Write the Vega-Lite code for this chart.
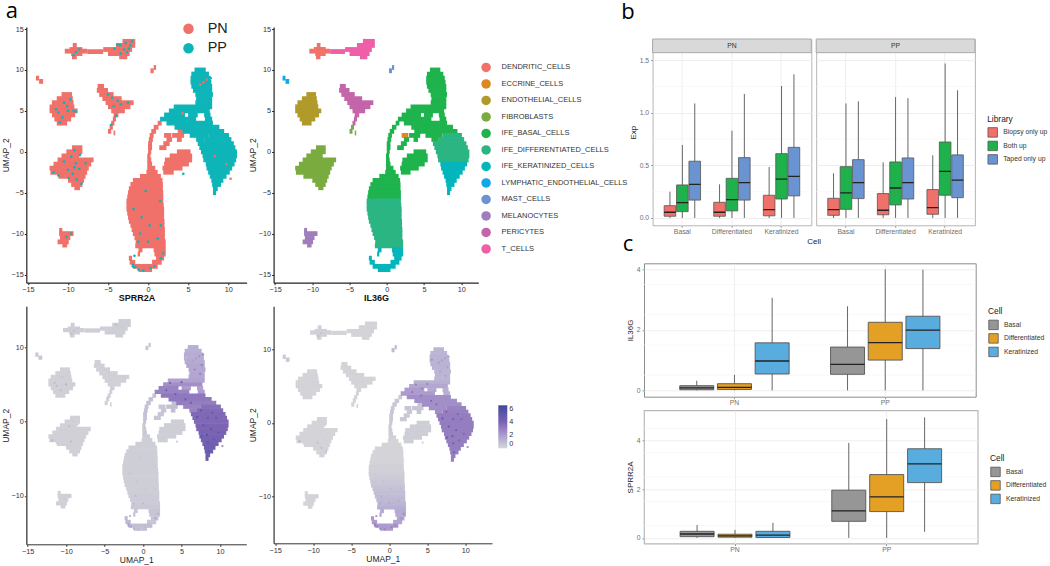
{"$schema":"https://vega.github.io/schema/vega-lite/v6.json","padding":{"left":1.3,"top":0,"right":0,"bottom":0},"background":"white",
"config":{"font":"Liberation Sans","concat":{"spacing":0}},
"datasets":{
"cells":[
{"y":13.5,"x1":-3.2,"x2":-1.6,"cluster":"T_CELLS","lib":"PN","sprr":0.3,"il36":0.1},
{"y":13,"x1":-4,"x2":-1.6,"cluster":"T_CELLS","lib":"PN","sprr":0.3,"il36":0.1},
{"y":12.5,"x1":-5.6,"x2":-2,"cluster":"T_CELLS","lib":"PN","sprr":0.3,"il36":0.1},
{"y":12.25,"x1":-7.6,"x2":-5.6,"cluster":"T_CELLS","lib":"PN","sprr":0.3,"il36":0.1},
{"y":12,"x1":-5,"x2":-2.3,"cluster":"T_CELLS","lib":"PN","sprr":0.3,"il36":0.1},
{"y":11.6,"x1":-3.6,"x2":-2.6,"cluster":"T_CELLS","lib":"PN","sprr":0.3,"il36":0.1},
{"y":13,"x1":-9.4,"x2":-8.9,"cluster":"DENDRITIC_CELLS","lib":"PN","sprr":0.3,"il36":0.2},
{"y":12.5,"x1":-9.8,"x2":-8.2,"cluster":"DENDRITIC_CELLS","lib":"PN","sprr":0.3,"il36":0.2},
{"y":12.3,"x1":-10.4,"x2":-7.6,"cluster":"DENDRITIC_CELLS","lib":"PN","sprr":0.3,"il36":0.2},
{"y":12,"x1":-9.6,"x2":-8.2,"cluster":"DENDRITIC_CELLS","lib":"PN","sprr":0.3,"il36":0.2},
{"y":11.6,"x1":-9.5,"x2":-8.9,"cluster":"DENDRITIC_CELLS","lib":"PN","sprr":0.3,"il36":0.2},
{"y":9,"x1":-14,"x2":-13.6,"cluster":"LYMPHATIC_ENDOTHELIAL_CELLS","lib":"PN","sprr":0.5,"il36":0.5},
{"y":8.6,"x1":-13.6,"x2":-13.1,"cluster":"LYMPHATIC_ENDOTHELIAL_CELLS","lib":"PN","sprr":0.5,"il36":0.5},
{"y":10.3,"x1":0.7,"x2":1,"cluster":"MAST_CELLS","lib":"PN","sprr":0.5,"il36":0.9},
{"y":9.9,"x1":0.3,"x2":0.7,"cluster":"MAST_CELLS","lib":"PN","sprr":0.5,"il36":0.9},
{"y":7,"x1":-10.8,"x2":-9.5,"cluster":"ENDOTHELIAL_CELLS","lib":"PN","sprr":0.2,"il36":0.1},
{"y":6.5,"x1":-11.4,"x2":-9.4,"cluster":"ENDOTHELIAL_CELLS","lib":"PN","sprr":0.2,"il36":0.1},
{"y":6,"x1":-12,"x2":-9.3,"cluster":"ENDOTHELIAL_CELLS","lib":"PN","sprr":0.2,"il36":0.1},
{"y":5.5,"x1":-12.3,"x2":-9.2,"cluster":"ENDOTHELIAL_CELLS","lib":"PN","sprr":0.2,"il36":0.1},
{"y":5,"x1":-12.3,"x2":-8.8,"cluster":"ENDOTHELIAL_CELLS","lib":"PN","sprr":0.2,"il36":0.1},
{"y":4.5,"x1":-12,"x2":-9.1,"cluster":"ENDOTHELIAL_CELLS","lib":"PN","sprr":0.2,"il36":0.1},
{"y":4,"x1":-11.7,"x2":-9.6,"cluster":"ENDOTHELIAL_CELLS","lib":"PN","sprr":0.2,"il36":0.1},
{"y":3.5,"x1":-11.4,"x2":-10.1,"cluster":"ENDOTHELIAL_CELLS","lib":"PN","sprr":0.2,"il36":0.1},
{"y":8,"x1":-6.3,"x2":-5.5,"cluster":"PERICYTES","lib":"PN","sprr":0.2,"il36":0.1},
{"y":7.5,"x1":-6.4,"x2":-5,"cluster":"PERICYTES","lib":"PN","sprr":0.2,"il36":0.1},
{"y":7,"x1":-6.1,"x2":-4.3,"cluster":"PERICYTES","lib":"PN","sprr":0.2,"il36":0.1},
{"y":6.5,"x1":-5.7,"x2":-3.3,"cluster":"PERICYTES","lib":"PN","sprr":0.2,"il36":0.1},
{"y":6,"x1":-5.3,"x2":-1.8,"cluster":"PERICYTES","lib":"PN","sprr":0.2,"il36":0.1},
{"y":5.5,"x1":-5,"x2":-2.2,"cluster":"PERICYTES","lib":"PN","sprr":0.2,"il36":0.1},
{"y":5,"x1":-4.6,"x2":-2.9,"cluster":"PERICYTES","lib":"PN","sprr":0.2,"il36":0.1},
{"y":4.5,"x1":-4.3,"x2":-3.7,"cluster":"PERICYTES","lib":"PN","sprr":0.2,"il36":0.1},
{"y":4,"x1":-4.4,"x2":-4,"cluster":"PERICYTES","lib":"PN","sprr":0.2,"il36":0.1},
{"y":3.5,"x1":-4.6,"x2":-4.2,"cluster":"PERICYTES","lib":"PN","sprr":0.2,"il36":0.1},
{"y":3,"x1":-4.8,"x2":-4.4,"cluster":"FIBROBLASTS","lib":"PN","sprr":0.2,"il36":0.1},
{"y":2.5,"x1":-5,"x2":-4.6,"cluster":"FIBROBLASTS","lib":"PN","sprr":0.2,"il36":0.1},
{"y":2.3,"x1":-4.3,"x2":-4.1,"cluster":"FIBROBLASTS","lib":"PN","sprr":0.2,"il36":0.1},
{"y":0.5,"x1":-9.5,"x2":-8.2,"cluster":"FIBROBLASTS","lib":"PN","sprr":0.2,"il36":0.1},
{"y":0,"x1":-10.2,"x2":-8.2,"cluster":"FIBROBLASTS","lib":"PN","sprr":0.2,"il36":0.1},
{"y":-0.5,"x1":-10.8,"x2":-8.6,"cluster":"FIBROBLASTS","lib":"PN","sprr":0.2,"il36":0.1},
{"y":-1,"x1":-11.3,"x2":-6.8,"cluster":"FIBROBLASTS","lib":"PN","sprr":0.2,"il36":0.1},
{"y":-1.5,"x1":-11.8,"x2":-7.1,"cluster":"FIBROBLASTS","lib":"PN","sprr":0.2,"il36":0.1},
{"y":-2,"x1":-12.3,"x2":-7.4,"cluster":"FIBROBLASTS","lib":"PN","sprr":0.2,"il36":0.1},
{"y":-2.5,"x1":-12.2,"x2":-7.6,"cluster":"FIBROBLASTS","lib":"PN","sprr":0.2,"il36":0.1},
{"y":-3,"x1":-11.2,"x2":-7.8,"cluster":"FIBROBLASTS","lib":"PN","sprr":0.2,"il36":0.1},
{"y":-3.5,"x1":-10,"x2":-8,"cluster":"FIBROBLASTS","lib":"PN","sprr":0.2,"il36":0.1},
{"y":-4,"x1":-9.6,"x2":-8.2,"cluster":"FIBROBLASTS","lib":"PN","sprr":0.2,"il36":0.1},
{"y":-4.4,"x1":-9.2,"x2":-8.5,"cluster":"FIBROBLASTS","lib":"PN","sprr":0.2,"il36":0.1},
{"y":-9.6,"x1":-11.1,"x2":-10.7,"cluster":"MELANOCYTES","lib":"PN","sprr":0.2,"il36":0.1},
{"y":-10,"x1":-11.1,"x2":-9.3,"cluster":"MELANOCYTES","lib":"PN","sprr":0.2,"il36":0.1},
{"y":-10.5,"x1":-11,"x2":-9.7,"cluster":"MELANOCYTES","lib":"PN","sprr":0.2,"il36":0.1},
{"y":-11,"x1":-11.3,"x2":-9.9,"cluster":"MELANOCYTES","lib":"PN","sprr":0.2,"il36":0.1},
{"y":-11.4,"x1":-10.7,"x2":-10.1,"cluster":"MELANOCYTES","lib":"PN","sprr":0.2,"il36":0.1},
{"y":2,"x1":2,"x2":2.9,"cluster":"ECCRINE_CELLS","lib":"PN","sprr":0.6,"il36":0.6},
{"y":2,"x1":3,"x2":4.5,"cluster":"IFE_BASAL_CELLS","lib":"PN","sprr":0.8,"il36":0.6},
{"y":2.5,"x1":3.7,"x2":4.6,"cluster":"IFE_BASAL_CELLS","lib":"PN","sprr":0.8,"il36":0.6},
{"y":1.5,"x1":2.3,"x2":3,"cluster":"IFE_BASAL_CELLS","lib":"PN","sprr":0.6,"il36":0.5},
{"y":1.5,"x1":3.6,"x2":4.2,"cluster":"IFE_BASAL_CELLS","lib":"PN","sprr":0.8,"il36":0.6},
{"y":1,"x1":1.9,"x2":2.7,"cluster":"IFE_BASAL_CELLS","lib":"PN","sprr":0.6,"il36":0.5},
{"y":0.5,"x1":1.4,"x2":2.3,"cluster":"IFE_BASAL_CELLS","lib":"PN","sprr":0.6,"il36":0.5},
{"y":0,"x1":3.6,"x2":5.3,"cluster":"IFE_BASAL_CELLS","lib":"PN","sprr":0.3,"il36":0.3},
{"y":-0.5,"x1":2.7,"x2":5.5,"cluster":"IFE_BASAL_CELLS","lib":"PN","sprr":0.3,"il36":0.3},
{"y":-1,"x1":2.1,"x2":5.5,"cluster":"IFE_BASAL_CELLS","lib":"PN","sprr":0.3,"il36":0.3},
{"y":-1.5,"x1":2,"x2":5.1,"cluster":"IFE_BASAL_CELLS","lib":"PN","sprr":0.3,"il36":0.3},
{"y":-2,"x1":1.8,"x2":4.3,"cluster":"IFE_BASAL_CELLS","lib":"PN","sprr":0.3,"il36":0.3},
{"y":-2.5,"x1":1.9,"x2":3.2,"cluster":"IFE_BASAL_CELLS","lib":"PN","sprr":0.3,"il36":0.3},
{"y":3.5,"x1":1.2,"x2":1.7,"cluster":"IFE_BASAL_CELLS","lib":"PN","sprr":0.7,"il36":0.5},
{"y":3,"x1":0.7,"x2":1.3,"cluster":"IFE_BASAL_CELLS","lib":"PN","sprr":0.7,"il36":0.5},
{"y":2.5,"x1":0.4,"x2":1,"cluster":"IFE_BASAL_CELLS","lib":"PN","sprr":0.7,"il36":0.5},
{"y":2,"x1":0.2,"x2":0.7,"cluster":"IFE_BASAL_CELLS","lib":"PN","sprr":0.7,"il36":0.5},
{"y":1.5,"x1":0.1,"x2":0.6,"cluster":"IFE_BASAL_CELLS","lib":"PN","sprr":0.7,"il36":0.5},
{"y":1,"x1":0,"x2":0.5,"cluster":"IFE_BASAL_CELLS","lib":"PN","sprr":0.7,"il36":0.5},
{"y":0.5,"x1":0,"x2":0.5,"cluster":"IFE_BASAL_CELLS","lib":"PN","sprr":0.7,"il36":0.5},
{"y":0,"x1":0,"x2":0.4,"cluster":"IFE_BASAL_CELLS","lib":"PN","sprr":0.7,"il36":0.5},
{"y":-0.5,"x1":-0.1,"x2":0.3,"cluster":"IFE_BASAL_CELLS","lib":"PN","sprr":0.5,"il36":0.4},
{"y":-1,"x1":-0.1,"x2":0.4,"cluster":"IFE_BASAL_CELLS","lib":"PN","sprr":0.5,"il36":0.4},
{"y":-1.5,"x1":-0.1,"x2":0.5,"cluster":"IFE_BASAL_CELLS","lib":"PN","sprr":0.5,"il36":0.3},
{"y":-2,"x1":-0.1,"x2":0.9,"cluster":"IFE_BASAL_CELLS","lib":"PN","sprr":0.4,"il36":0.2},
{"y":-2.5,"x1":-0.2,"x2":1.2,"cluster":"IFE_BASAL_CELLS","lib":"PN","sprr":0.3,"il36":0.1},
{"y":-3,"x1":-1,"x2":1.6,"cluster":"IFE_BASAL_CELLS","lib":"PN","sprr":0.3,"il36":0.1},
{"y":-3.5,"x1":-1.9,"x2":1.8,"cluster":"IFE_BASAL_CELLS","lib":"PN","sprr":0.3,"il36":0.1},
{"y":-4,"x1":-2.2,"x2":1.85,"cluster":"IFE_BASAL_CELLS","lib":"PN","sprr":0.3,"il36":0.1},
{"y":-4.5,"x1":-2.4,"x2":1.85,"cluster":"IFE_BASAL_CELLS","lib":"PN","sprr":0.3,"il36":0.1},
{"y":-5,"x1":-2.5,"x2":1.9,"cluster":"IFE_BASAL_CELLS","lib":"PN","sprr":0.3,"il36":0.1},
{"y":-5.5,"x1":-2.6,"x2":1.9,"cluster":"IFE_BASAL_CELLS","lib":"PN","sprr":0.3,"il36":0.1},
{"y":-6,"x1":-2.7,"x2":1.9,"cluster":"IFE_DIFFERENTIATED_CELLS","lib":"PN","sprr":0.3,"il36":0.2},
{"y":-6.5,"x1":-2.7,"x2":1.95,"cluster":"IFE_DIFFERENTIATED_CELLS","lib":"PN","sprr":0.3,"il36":0.2},
{"y":-7,"x1":-2.7,"x2":2,"cluster":"IFE_DIFFERENTIATED_CELLS","lib":"PN","sprr":0.3,"il36":0.3},
{"y":-7.5,"x1":-2.6,"x2":2,"cluster":"IFE_DIFFERENTIATED_CELLS","lib":"PN","sprr":0.3,"il36":0.4},
{"y":-8,"x1":-2.5,"x2":2,"cluster":"IFE_DIFFERENTIATED_CELLS","lib":"PN","sprr":0.3,"il36":0.5},
{"y":-8.5,"x1":-2.4,"x2":2.05,"cluster":"IFE_DIFFERENTIATED_CELLS","lib":"PN","sprr":0.3,"il36":0.6},
{"y":-9,"x1":-2.2,"x2":2.05,"cluster":"IFE_DIFFERENTIATED_CELLS","lib":"PN","sprr":0.3,"il36":0.7},
{"y":-9.5,"x1":-2.05,"x2":2.1,"cluster":"IFE_DIFFERENTIATED_CELLS","lib":"PN","sprr":0.3,"il36":0.8},
{"y":-10,"x1":-1.9,"x2":2.1,"cluster":"IFE_DIFFERENTIATED_CELLS","lib":"PN","sprr":0.4,"il36":0.9},
{"y":-10.5,"x1":-1.7,"x2":2.1,"cluster":"IFE_DIFFERENTIATED_CELLS","lib":"PN","sprr":0.4,"il36":1},
{"y":-11,"x1":-1.55,"x2":2.2,"cluster":"IFE_DIFFERENTIATED_CELLS","lib":"PN","sprr":0.4,"il36":1.1},
{"y":-11.5,"x1":-1.6,"x2":2.2,"cluster":"IFE_DIFFERENTIATED_CELLS","lib":"PN","sprr":0.5,"il36":1.3},
{"y":-12,"x1":-1.2,"x2":-0.7,"cluster":"IFE_KERATINIZED_CELLS","lib":"PN","sprr":0.6,"il36":1.5},
{"y":-12,"x1":0.7,"x2":2.2,"cluster":"IFE_KERATINIZED_CELLS","lib":"PN","sprr":0.6,"il36":1.5},
{"y":-12.5,"x1":-1.3,"x2":-1,"cluster":"IFE_KERATINIZED_CELLS","lib":"PN","sprr":0.6,"il36":1.5},
{"y":-12.5,"x1":0.8,"x2":2.2,"cluster":"IFE_KERATINIZED_CELLS","lib":"PN","sprr":0.6,"il36":1.5},
{"y":-13,"x1":-2.4,"x2":-2,"cluster":"IFE_KERATINIZED_CELLS","lib":"PN","sprr":1,"il36":2},
{"y":-13,"x1":1,"x2":2,"cluster":"IFE_KERATINIZED_CELLS","lib":"PN","sprr":0.6,"il36":1.6},
{"y":-13.5,"x1":-2.3,"x2":-1.6,"cluster":"IFE_KERATINIZED_CELLS","lib":"PN","sprr":1,"il36":2},
{"y":-13.5,"x1":0.5,"x2":1.7,"cluster":"IFE_KERATINIZED_CELLS","lib":"PN","sprr":0.6,"il36":1.7},
{"y":-14,"x1":-1.9,"x2":1.2,"cluster":"IFE_KERATINIZED_CELLS","lib":"PN","sprr":0.8,"il36":2},
{"y":-14.4,"x1":-1.2,"x2":0.5,"cluster":"IFE_KERATINIZED_CELLS","lib":"PN","sprr":0.7,"il36":2},
{"y":10,"x1":5.8,"x2":7.2,"cluster":"IFE_BASAL_CELLS","lib":"PP","sprr":1.3,"il36":1.1},
{"y":9.5,"x1":5.4,"x2":7.6,"cluster":"IFE_BASAL_CELLS","lib":"PP","sprr":1.3,"il36":1.1},
{"y":9,"x1":5.3,"x2":7.8,"cluster":"IFE_BASAL_CELLS","lib":"PP","sprr":1.4,"il36":1.2},
{"y":8.5,"x1":5.3,"x2":7.9,"cluster":"IFE_BASAL_CELLS","lib":"PP","sprr":1.4,"il36":1.2},
{"y":8,"x1":5.4,"x2":8,"cluster":"IFE_BASAL_CELLS","lib":"PP","sprr":1.5,"il36":1.2},
{"y":7.5,"x1":5.6,"x2":8,"cluster":"IFE_BASAL_CELLS","lib":"PP","sprr":1.6,"il36":1.2},
{"y":7,"x1":5.9,"x2":8.1,"cluster":"IFE_BASAL_CELLS","lib":"PP","sprr":1.6,"il36":1.1},
{"y":6.5,"x1":6,"x2":8,"cluster":"IFE_BASAL_CELLS","lib":"PP","sprr":1.6,"il36":1.1},
{"y":6,"x1":5.9,"x2":8,"cluster":"IFE_BASAL_CELLS","lib":"PP","sprr":1.6,"il36":1.1},
{"y":5.5,"x1":3.2,"x2":8,"cluster":"IFE_BASAL_CELLS","lib":"PP","sprr":1.8,"il36":1.3},
{"y":5,"x1":2.6,"x2":7.7,"cluster":"IFE_BASAL_CELLS","lib":"PP","sprr":2.4,"il36":1.6},
{"y":4.5,"x1":2,"x2":4.6,"cluster":"IFE_BASAL_CELLS","lib":"PP","sprr":2.8,"il36":2},
{"y":4.5,"x1":5,"x2":6.2,"cluster":"IFE_BASAL_CELLS","lib":"PP","sprr":2,"il36":1.5},
{"y":4.5,"x1":7,"x2":7.8,"cluster":"IFE_BASAL_CELLS","lib":"PP","sprr":1.8,"il36":1.3},
{"y":4,"x1":1.5,"x2":6,"cluster":"IFE_BASAL_CELLS","lib":"PP","sprr":2.8,"il36":2},
{"y":4,"x1":7.1,"x2":8,"cluster":"IFE_BASAL_CELLS","lib":"PP","sprr":2,"il36":1.3},
{"y":3.5,"x1":2.3,"x2":8.1,"cluster":"IFE_BASAL_CELLS","lib":"PP","sprr":3.2,"il36":2.4},
{"y":3,"x1":3.3,"x2":8.9,"cluster":"IFE_BASAL_CELLS","lib":"PP","sprr":3.2,"il36":2.4},
{"y":2.5,"x1":4.3,"x2":9.5,"cluster":"IFE_BASAL_CELLS","lib":"PP","sprr":3,"il36":2.4},
{"y":2,"x1":5.2,"x2":7.5,"cluster":"IFE_BASAL_CELLS","lib":"PP","sprr":2.8,"il36":2.4},
{"y":2,"x1":7.5,"x2":10.1,"cluster":"IFE_DIFFERENTIATED_CELLS","lib":"PP","sprr":3.5,"il36":2.8},
{"y":1.5,"x1":6,"x2":7,"cluster":"IFE_BASAL_CELLS","lib":"PP","sprr":2.8,"il36":2.4},
{"y":1.5,"x1":7,"x2":10.4,"cluster":"IFE_DIFFERENTIATED_CELLS","lib":"PP","sprr":3.7,"il36":2.9},
{"y":1,"x1":6.2,"x2":10.7,"cluster":"IFE_DIFFERENTIATED_CELLS","lib":"PP","sprr":3.8,"il36":3},
{"y":0.5,"x1":6.4,"x2":10.9,"cluster":"IFE_DIFFERENTIATED_CELLS","lib":"PP","sprr":3.8,"il36":3},
{"y":0,"x1":6.6,"x2":11.1,"cluster":"IFE_DIFFERENTIATED_CELLS","lib":"PP","sprr":3.8,"il36":3},
{"y":-0.5,"x1":6.8,"x2":11.1,"cluster":"IFE_DIFFERENTIATED_CELLS","lib":"PP","sprr":3.9,"il36":3},
{"y":-1,"x1":6.9,"x2":11,"cluster":"IFE_DIFFERENTIATED_CELLS","lib":"PP","sprr":3.9,"il36":3},
{"y":-1.5,"x1":7.2,"x2":10.8,"cluster":"IFE_KERATINIZED_CELLS","lib":"PP","sprr":4,"il36":3},
{"y":-2,"x1":7.3,"x2":10.5,"cluster":"IFE_KERATINIZED_CELLS","lib":"PP","sprr":4.1,"il36":3},
{"y":-2.5,"x1":7.5,"x2":10.2,"cluster":"IFE_KERATINIZED_CELLS","lib":"PP","sprr":4.2,"il36":3},
{"y":-3,"x1":7.7,"x2":9.8,"cluster":"IFE_KERATINIZED_CELLS","lib":"PP","sprr":4.3,"il36":3},
{"y":-3.5,"x1":7.9,"x2":9.4,"cluster":"IFE_KERATINIZED_CELLS","lib":"PP","sprr":4.4,"il36":3},
{"y":-4,"x1":8,"x2":9.1,"cluster":"IFE_KERATINIZED_CELLS","lib":"PP","sprr":4.5,"il36":3},
{"y":-4.5,"x1":8.1,"x2":8.7,"cluster":"IFE_KERATINIZED_CELLS","lib":"PP","sprr":4.5,"il36":3},
{"y":-5,"x1":8.1,"x2":8.5,"cluster":"IFE_KERATINIZED_CELLS","lib":"PP","sprr":4.5,"il36":3}
],
"dots":[
{"x":-3.5,"y":13,"lib":"PP","sprr":1,"il36":0.2},{"x":-2.8,"y":13.3,"lib":"PP","sprr":0.3,"il36":0.2},{"x":-2.2,"y":13,"lib":"PP","sprr":0.3,"il36":0.2},{"x":-3,"y":12.5,"lib":"PP","sprr":0.3,"il36":0.2},{"x":-4.2,"y":12.6,"lib":"PP","sprr":0.3,"il36":0.2},{"x":-2.6,"y":12.2,"lib":"PP","sprr":0.3,"il36":0.2},{"x":-3.4,"y":12,"lib":"PP","sprr":0.3,"il36":0.2},{"x":-2,"y":13.5,"lib":"PP","sprr":0.3,"il36":0.2},{"x":-3.8,"y":13.1,"lib":"PP","sprr":0.3,"il36":0.2},{"x":-2.4,"y":12.6,"lib":"PP","sprr":0.3,"il36":0.2},
{"x":-9,"y":12.2,"lib":"PP","sprr":1,"il36":0.8},{"x":-9.3,"y":11.8,"lib":"PP","sprr":1,"il36":0.8},{"x":-8.6,"y":12.5,"lib":"PP","sprr":0.5,"il36":0.3},
{"x":-11.5,"y":5.2,"lib":"PP","sprr":1,"il36":0.2},{"x":-10.5,"y":6,"lib":"PP","sprr":0.8,"il36":0.2},{"x":-10,"y":5,"lib":"PP","sprr":1.4,"il36":0.2},{"x":-9.3,"y":5,"lib":"PP","sprr":0.3,"il36":0.2},{"x":-9,"y":4.9,"lib":"PP","sprr":0.3,"il36":0.2},{"x":-10.7,"y":4.2,"lib":"PP","sprr":1,"il36":0.2},{"x":-11,"y":3.6,"lib":"PP","sprr":0.3,"il36":0.2},{"x":-9.7,"y":6.4,"lib":"PP","sprr":0.3,"il36":0.2},{"x":-11.2,"y":4.8,"lib":"PP","sprr":1,"il36":0.2},{"x":-10.1,"y":5.6,"lib":"PP","sprr":0.3,"il36":0.2},
{"x":-4.5,"y":6.6,"lib":"PP","sprr":0.4,"il36":0.2},{"x":-3.8,"y":6.2,"lib":"PP","sprr":0.4,"il36":0.2},{"x":-4.3,"y":5.6,"lib":"PP","sprr":0.4,"il36":0.2},{"x":-3.4,"y":5.8,"lib":"PP","sprr":0.4,"il36":0.2},{"x":-5,"y":7,"lib":"PP","sprr":0.4,"il36":0.2},{"x":-2.5,"y":6,"lib":"PP","sprr":0.4,"il36":0.2},{"x":-4,"y":4.4,"lib":"PP","sprr":0.4,"il36":0.2},{"x":-4.6,"y":3.3,"lib":"PP","sprr":0.4,"il36":0.2},
{"x":-10.5,"y":-1.2,"lib":"PP","sprr":0.4,"il36":0.2},{"x":-9.6,"y":-0.6,"lib":"PP","sprr":1,"il36":0.2},{"x":-9,"y":-1.4,"lib":"PP","sprr":0.4,"il36":0.2},{"x":-9.2,"y":0.2,"lib":"PP","sprr":0.4,"il36":0.2},{"x":-8.5,"y":-0.4,"lib":"PP","sprr":0.4,"il36":0.2},{"x":-11.8,"y":-2.5,"lib":"PP","sprr":1.2,"il36":1.2},{"x":-11.2,"y":-2.9,"lib":"PP","sprr":0.4,"il36":0.2},{"x":-10,"y":-2.2,"lib":"PP","sprr":0.4,"il36":0.2},{"x":-9.4,"y":-2.7,"lib":"PP","sprr":1,"il36":0.8},{"x":-8.6,"y":-2.1,"lib":"PP","sprr":0.4,"il36":0.2},{"x":-8.9,"y":-3.4,"lib":"PP","sprr":0.4,"il36":1},{"x":-9.9,"y":-3.2,"lib":"PP","sprr":0.4,"il36":0.2},{"x":-7.8,"y":-1.4,"lib":"PP","sprr":0.4,"il36":0.2},{"x":-8.3,"y":-3.9,"lib":"PP","sprr":0.4,"il36":1},{"x":-9.2,"y":-1.9,"lib":"PP","sprr":0.4,"il36":0.2},
{"x":-10.2,"y":-10.4,"lib":"PP","sprr":0.4,"il36":0.2},{"x":-9.6,"y":-10,"lib":"PP","sprr":0.4,"il36":0.2},
{"x":4.4,"y":-2.7,"lib":"PP","sprr":0.4,"il36":0.3},
{"x":-1.8,"y":-7,"lib":"PP","sprr":0.6,"il36":0.6},{"x":-0.8,"y":-8,"lib":"PP","sprr":0.6,"il36":0.8},{"x":0.2,"y":-9,"lib":"PP","sprr":0.6,"il36":1},{"x":-1,"y":-10,"lib":"PP","sprr":1,"il36":1.4},{"x":0,"y":-11,"lib":"PP","sprr":1,"il36":1.6},{"x":1.2,"y":-10.6,"lib":"PP","sprr":0.6,"il36":1.5},{"x":-1.2,"y":-11,"lib":"PP","sprr":1,"il36":1.6},{"x":-0.3,"y":-4.8,"lib":"PP","sprr":0.6,"il36":0.3},{"x":1.5,"y":-6,"lib":"PP","sprr":0.6,"il36":0.3},{"x":1.6,"y":-9,"lib":"PP","sprr":0.6,"il36":1},
{"x":-1.9,"y":-13.8,"lib":"PP","sprr":2,"il36":3},{"x":-1.6,"y":-14.1,"lib":"PP","sprr":2,"il36":3},{"x":-1.9,"y":-14,"lib":"PP","sprr":2,"il36":3},{"x":-1.2,"y":-14.4,"lib":"PP","sprr":1.5,"il36":3},{"x":-0.6,"y":-14.5,"lib":"PP","sprr":1,"il36":3},{"x":0.8,"y":-14,"lib":"PP","sprr":1,"il36":3},{"x":1.6,"y":-13,"lib":"PP","sprr":2,"il36":2.6},{"x":1.9,"y":-12.4,"lib":"PP","sprr":1.6,"il36":2.6},{"x":-1.7,"y":-12.7,"lib":"PP","sprr":1.6,"il36":2.6},{"x":0.3,"y":-14.2,"lib":"PP","sprr":1,"il36":3},
{"x":6.5,"y":8.2,"lib":"PN","sprr":2,"il36":2},{"x":6.9,"y":8.5,"lib":"PN","sprr":2.2,"il36":2},{"x":7.3,"y":8.8,"lib":"PN","sprr":2.4,"il36":2},{"x":8.3,"y":-0.5,"lib":"PN","sprr":4,"il36":3},{"x":10.3,"y":-3.3,"lib":"PN","sprr":3,"il36":3},{"x":9.8,"y":-1.5,"lib":"PN","sprr":5,"il36":4},{"x":4.3,"y":4.7,"lib":"PN","sprr":3,"il36":3},
{"x":7.8,"y":9,"lib":"PP","sprr":3,"il36":2.2},{"x":7.6,"y":7.6,"lib":"PP","sprr":3.2,"il36":1.8},{"x":7.4,"y":6.4,"lib":"PP","sprr":3,"il36":2},{"x":6.7,"y":7,"lib":"PP","sprr":2.8,"il36":2},{"x":5.6,"y":8.6,"lib":"PP","sprr":0.8,"il36":2.4},{"x":3.5,"y":5.2,"lib":"PP","sprr":4.5,"il36":3},{"x":5,"y":5.3,"lib":"PP","sprr":4.5,"il36":3},{"x":3,"y":4.2,"lib":"PP","sprr":4.8,"il36":3.5},{"x":4.2,"y":3.7,"lib":"PP","sprr":4.8,"il36":3.5},{"x":5.5,"y":3,"lib":"PP","sprr":5,"il36":4},{"x":6.2,"y":2.5,"lib":"PP","sprr":4.8,"il36":3.8},
{"x":7.5,"y":1.5,"lib":"PP","sprr":5.2,"il36":4.5},{"x":8.4,"y":0.5,"lib":"PP","sprr":5.2,"il36":4.5},{"x":7.8,"y":-0.5,"lib":"PP","sprr":5.5,"il36":5},{"x":8.8,"y":-1,"lib":"PP","sprr":5.5,"il36":4.5},{"x":7.6,"y":-2,"lib":"PP","sprr":5.5,"il36":5},{"x":8.4,"y":-2.8,"lib":"PP","sprr":5.5,"il36":4.5},{"x":8.5,"y":-4,"lib":"PP","sprr":5.5,"il36":4.5},{"x":9.2,"y":-2.4,"lib":"PP","sprr":5,"il36":4},{"x":9.5,"y":0.5,"lib":"PP","sprr":5,"il36":3.8},{"x":7,"y":0.6,"lib":"PP","sprr":5.5,"il36":5},{"x":8.3,"y":-1.8,"lib":"PP","sprr":5.8,"il36":5},{"x":9,"y":1.2,"lib":"PP","sprr":5,"il36":4}
],
"bbox":[
{"tissue":"PN","cell":"Basal","lib":"Biopsy only up","min":0,"q1":0.016,"med":0.054,"q3":0.117,"max":0.25},
{"tissue":"PN","cell":"Basal","lib":"Both up","min":0,"q1":0.06,"med":0.146,"q3":0.314,"max":0.695},
{"tissue":"PN","cell":"Basal","lib":"Taped only up","min":0,"q1":0.17,"med":0.32,"q3":0.54,"max":1.09},
{"tissue":"PN","cell":"Differentiated","lib":"Biopsy only up","min":0,"q1":0.016,"med":0.054,"q3":0.149,"max":0.32},
{"tissue":"PN","cell":"Differentiated","lib":"Both up","min":0,"q1":0.067,"med":0.175,"q3":0.377,"max":0.83},
{"tissue":"PN","cell":"Differentiated","lib":"Taped only up","min":0,"q1":0.17,"med":0.336,"q3":0.574,"max":1.18},
{"tissue":"PN","cell":"Keratinized","lib":"Biopsy only up","min":0,"q1":0.02,"med":0.08,"q3":0.216,"max":0.485},
{"tissue":"PN","cell":"Keratinized","lib":"Both up","min":0,"q1":0.18,"med":0.37,"q3":0.612,"max":1.256},
{"tissue":"PN","cell":"Keratinized","lib":"Taped only up","min":0,"q1":0.21,"med":0.396,"q3":0.672,"max":1.367},
{"tissue":"PP","cell":"Basal","lib":"Biopsy only up","min":0,"q1":0.025,"med":0.08,"q3":0.187,"max":0.425},
{"tissue":"PP","cell":"Basal","lib":"Both up","min":0,"q1":0.082,"med":0.238,"q3":0.488,"max":1.09},
{"tissue":"PP","cell":"Basal","lib":"Taped only up","min":0,"q1":0.184,"med":0.336,"q3":0.555,"max":1.11},
{"tissue":"PP","cell":"Differentiated","lib":"Biopsy only up","min":0,"q1":0.03,"med":0.073,"q3":0.232,"max":0.53},
{"tissue":"PP","cell":"Differentiated","lib":"Both up","min":0,"q1":0.124,"med":0.285,"q3":0.533,"max":1.15},
{"tissue":"PP","cell":"Differentiated","lib":"Taped only up","min":0,"q1":0.18,"med":0.336,"q3":0.571,"max":1.14},
{"tissue":"PP","cell":"Keratinized","lib":"Biopsy only up","min":0,"q1":0.035,"med":0.098,"q3":0.27,"max":0.596},
{"tissue":"PP","cell":"Keratinized","lib":"Both up","min":0,"q1":0.216,"med":0.444,"q3":0.723,"max":1.47},
{"tissue":"PP","cell":"Keratinized","lib":"Taped only up","min":0,"q1":0.193,"med":0.36,"q3":0.6,"max":1.215}
],
"cbox":[
{"gene":"IL36G","tissue":"PN","cell":"Basal","min":0,"q1":0.02,"med":0.08,"q3":0.155,"max":0.32},
{"gene":"IL36G","tissue":"PN","cell":"Differentiated","min":0,"q1":0.03,"med":0.1,"q3":0.22,"max":0.51},
{"gene":"IL36G","tissue":"PN","cell":"Keratinized","min":0,"q1":0.54,"med":0.97,"q3":1.57,"max":3.06},
{"gene":"IL36G","tissue":"PP","cell":"Basal","min":0,"q1":0.53,"med":0.86,"q3":1.43,"max":2.78},
{"gene":"IL36G","tissue":"PP","cell":"Differentiated","min":0,"q1":1,"med":1.58,"q3":2.25,"max":4},
{"gene":"IL36G","tissue":"PP","cell":"Keratinized","min":0,"q1":1.38,"med":1.99,"q3":2.45,"max":3.99},
{"gene":"SPRR2A","tissue":"PN","cell":"Basal","min":0,"q1":0.05,"med":0.16,"q3":0.27,"max":0.53},
{"gene":"SPRR2A","tissue":"PN","cell":"Differentiated","min":0,"q1":0.03,"med":0.08,"q3":0.15,"max":0.33},
{"gene":"SPRR2A","tissue":"PN","cell":"Keratinized","min":0,"q1":0.015,"med":0.11,"q3":0.27,"max":0.62},
{"gene":"SPRR2A","tissue":"PP","cell":"Basal","min":0,"q1":0.68,"med":1.11,"q3":1.96,"max":3.9},
{"gene":"SPRR2A","tissue":"PP","cell":"Differentiated","min":0,"q1":1.08,"med":1.68,"q3":2.6,"max":4.88},
{"gene":"SPRR2A","tissue":"PP","cell":"Keratinized","min":0.25,"q1":2.27,"med":3.04,"q3":3.66,"max":4.95}
]
},
"resolve":{"scale":{"color":"independent","fill":"independent","xOffset":"independent"},"legend":{"color":"independent","fill":"independent"}},
"hconcat":[
{"resolve":{"scale":{"color":"independent"},"legend":{"color":"independent"}},"vconcat":[
{"resolve":{"scale":{"color":"independent"},"legend":{"color":"independent"}},"hconcat":[
{"width":220.3,"height":255.7,"view":{"stroke":null},"layer":[
{"data":{"name":"cells"},"mark":{"type":"bar","orient":"horizontal","size":4.8},"encoding":{"y":{"field":"y","type":"quantitative","title":"UMAP_2","scale":{"domain":[-16,15.25],"nice":false,"zero":false,"padding":0},"axis":{"values":[-15,-10,-5,0,5,10,15],"grid":false,"domainColor":"#222","domainWidth":1.2,"tickColor":"#222","tickSize":2,"labelFontSize":7.3,"labelColor":"#333","labelPadding":1,"titleFontSize":8.5,"titleFontWeight":"normal","titleColor":"#222","titlePadding":0.3}},"x":{"field":"x1","type":"quantitative","title":"SPRR2A","scale":{"domain":[-15.2,12.3],"nice":false,"zero":false},"axis":{"values":[-15,-10,-5,0,5,10],"grid":false,"domainColor":"#222","domainWidth":1.2,"tickColor":"#222","tickSize":2,"labelFontSize":7.3,"labelColor":"#333","labelPadding":1,"titleFontSize":9,"titleFontWeight":"bold","titleColor":"#111","titlePadding":1}},"x2":{"field":"x2"},"color":{"field":"lib","type":"nominal","scale":{"domain":["PN","PP"],"range":["#F0706A","#0DB5B8"]},"legend":{"orient":"none","legendX":155,"legendY":-5.5,"title":null,"symbolType":"circle","symbolSize":110,"labelFontSize":14.4,"labelColor":"#222","labelOffset":12,"rowPadding":4.6}}}},
{"data":{"name":"dots"},"mark":{"type":"point","filled":true,"size":7,"opacity":1},"encoding":{"x":{"field":"x","type":"quantitative"},"y":{"field":"y","type":"quantitative"},"color":{"field":"lib","type":"nominal","legend":null}}},
{"data":{"values":[{"t":"a","x":-17,"y":17.2}]},"mark":{"type":"text","fontSize":22,"font":"Open Sans","color":"#000"},"encoding":{"x":{"field":"x","type":"quantitative"},"y":{"field":"y","type":"quantitative"},"text":{"field":"t"}}}
]},
{"width":204.7,"height":255.7,"view":{"stroke":null},"layer":[
{"data":{"name":"cells"},"mark":{"type":"bar","orient":"horizontal","size":4.8},"encoding":{"y":{"field":"y","type":"quantitative","title":"UMAP_2","scale":{"domain":[-16,15.25],"nice":false,"zero":false,"padding":0},"axis":{"values":[-15,-10,-5,0,5,10,15],"grid":false,"domainColor":"#222","domainWidth":1.2,"tickColor":"#222","tickSize":2,"labelFontSize":7.3,"labelColor":"#333","labelPadding":1,"titleFontSize":8.5,"titleFontWeight":"normal","titleColor":"#222","titlePadding":0.3}},"x":{"field":"x1","type":"quantitative","title":"IL36G","scale":{"domain":[-15.2,12.3],"nice":false,"zero":false},"axis":{"values":[-15,-10,-5,0,5,10],"grid":false,"domainColor":"#222","domainWidth":1.2,"tickColor":"#222","tickSize":2,"labelFontSize":7.3,"labelColor":"#333","labelPadding":1,"titleFontSize":9,"titleFontWeight":"bold","titleColor":"#111","titlePadding":1}},"x2":{"field":"x2"},"color":{"field":"cluster","type":"nominal","scale":{"domain":["DENDRITIC_CELLS","ECCRINE_CELLS","ENDOTHELIAL_CELLS","FIBROBLASTS","IFE_BASAL_CELLS","IFE_DIFFERENTIATED_CELLS","IFE_KERATINIZED_CELLS","LYMPHATIC_ENDOTHELIAL_CELLS","MAST_CELLS","MELANOCYTES","PERICYTES","T_CELLS"],"range":["#F07269","#DC8A1F","#B09B2A","#7AAB3E","#1EB34C","#2BB583","#04B6BC","#12A8E6","#6C93D2","#A07DBD","#C464A9","#EE5FA7"]},"legend":{"orient":"none","legendX":207,"legendY":34.9,"title":null,"symbolType":"circle","symbolSize":90,"labelFontSize":7.5,"labelColor":"#333","labelOffset":10,"rowPadding":5.5,"labelLimit":200,"columns":1}}}}
]}
],"spacing":26.3,"bounds":"flush"},
{"resolve":{"scale":{"color":"independent"},"legend":{"color":"independent"}},"hconcat":[
{"width":220,"height":238,"view":{"stroke":null},"layer":[
{"data":{"name":"cells"},"mark":{"type":"bar","orient":"horizontal","size":4.3},"encoding":{"y":{"field":"y","type":"quantitative","title":"UMAP_2","scale":{"domain":[-16.5,15.5],"nice":false,"zero":false,"padding":0},"axis":{"values":[-10,0,10],"grid":false,"domainColor":"#555","domainWidth":1.5,"tickColor":"#333","tickSize":2,"labelFontSize":7.3,"labelColor":"#333","labelPadding":1,"titleFontSize":8.5,"titleFontWeight":"normal","titleColor":"#222","titlePadding":0.3}},"x":{"field":"x1","type":"quantitative","title":"UMAP_1","scale":{"domain":[-15.17,13.4],"nice":false,"zero":false},"axis":{"values":[-15,-10,-5,0,5,10],"grid":false,"domainColor":"#333","domainWidth":1,"tickColor":"#333","tickSize":2,"labelFontSize":7.3,"labelColor":"#333","labelPadding":1,"titleFontSize":8.5,"titleFontWeight":"normal","titleColor":"#222","titlePadding":1}},"x2":{"field":"x2"},"color":{"field":"sprr","type":"quantitative","scale":{"domain":[0,2,4,6.5],"range":["#d6d6d8","#ad9bcd","#7a62b3","#3b4a9e"]},"legend":null}}},
{"data":{"name":"dots"},"mark":{"type":"point","filled":true,"size":5,"opacity":0.9},"encoding":{"x":{"field":"x","type":"quantitative"},"y":{"field":"y","type":"quantitative"},"color":{"field":"sprr","type":"quantitative","legend":null}}}
]},
{"width":218.4,"height":237,"view":{"stroke":null},"layer":[
{"data":{"name":"cells"},"mark":{"type":"bar","orient":"horizontal","size":4.3},"encoding":{"y":{"field":"y","type":"quantitative","title":"UMAP_2","scale":{"domain":[-16.4,15.87],"nice":false,"zero":false,"padding":0},"axis":{"values":[-10,0,10],"grid":false,"domainColor":"#333","domainWidth":1.2,"tickColor":"#333","tickSize":2,"labelFontSize":7.3,"labelColor":"#333","labelPadding":1,"titleFontSize":8.5,"titleFontWeight":"normal","titleColor":"#222","titlePadding":0.3}},"x":{"field":"x1","type":"quantitative","title":"UMAP_1","scale":{"domain":[-15.2,13.5],"nice":false,"zero":false},"axis":{"values":[-15,-10,-5,0,5,10],"grid":false,"domainColor":"#333","domainWidth":1,"tickColor":"#333","tickSize":2,"labelFontSize":7.3,"labelColor":"#333","labelPadding":1,"titleFontSize":8.5,"titleFontWeight":"normal","titleColor":"#222","titlePadding":1}},"x2":{"field":"x2"},"color":{"field":"il36","type":"quantitative","title":null,"scale":{"domain":[0,2,4,6.5],"range":["#d6d6d8","#ad9bcd","#7a62b3","#3b4a9e"]},"legend":{"orient":"none","legendX":224.7,"legendY":99,"title":null,"gradientLength":43,"gradientThickness":9,"values":[0,2,4,6],"labelFontSize":7.3,"labelColor":"#333","gradientStrokeWidth":0}}}},
{"data":{"name":"dots"},"mark":{"type":"point","filled":true,"size":5,"opacity":0.9},"encoding":{"x":{"field":"x","type":"quantitative"},"y":{"field":"y","type":"quantitative"},"color":{"field":"il36","type":"quantitative","legend":null}}}
]}
],"spacing":27.3,"bounds":"flush"}
],"spacing":3.3},
{"resolve":{"scale":{"fill":"independent","xOffset":"independent"},"legend":{"fill":"independent"}},"vconcat":[
{"width":1,"height":11,"view":{"stroke":null},"data":{"values":[{"t":"b","a":2.36}]},"mark":{"type":"text","fontSize":22,"font":"Open Sans","color":"#000","dx":-16.5},"encoding":{"y":{"field":"a","type":"quantitative","scale":{"domain":[0,1],"nice":false,"zero":false},"axis":null},"text":{"field":"t"}}},
{"resolve":{"scale":{"fill":"independent","xOffset":"independent"},"legend":{"fill":"independent"}},"vconcat":[
{"hconcat":[
{"width":3.4,"height":186.3,"view":{"stroke":null},"data":{"values":[{"s":""}]},"mark":{"type":"text"},"encoding":{"text":{"field":"s"}}},
{"width":158.7,"height":186.3,"view":{"stroke":"#b5b5b5"},"layer":[
{"data":{"values":[{"v":0.25},{"v":0.75},{"v":1.25}]},"mark":{"type":"rule","color":"#f4f4f4","strokeWidth":0.6},"encoding":{"y":{"field":"v","type":"quantitative","title":"Exp","scale":{"domain":[-0.07,1.703],"nice":false,"zero":false},"axis":{"values":[0,0.5,1,1.5],"grid":true,"gridColor":"#eeeeee","domain":false,"tickColor":"#999","tickSize":2,"labelFontSize":6.8,"labelColor":"#6e6e6e","labelPadding":2,"titleFontSize":8,"titleFontWeight":"normal","titleColor":"#222","titlePadding":2}}}},
{"data":{"name":"bbox"},"transform":[{"filter":"datum.tissue==='PN'"}],"mark":{"type":"rule","color":"#666","strokeWidth":1},"encoding":{"x":{"field":"cell","type":"nominal","title":"Cell","scale":{"paddingInner":0,"paddingOuter":0.1},"axis":{"labelAngle":0,"grid":true,"gridColor":"#eeeeee","domain":false,"tickColor":"#999","tickSize":2,"labelFontSize":6.8,"labelColor":"#6e6e6e","labelPadding":1,"titleFontSize":8,"titleFontWeight":"normal","titleColor":"#222","titleX":161,"titleY":12}},"xOffset":{"field":"lib","scale":{"paddingInner":0,"paddingOuter":0.5}},"y":{"field":"min","type":"quantitative"},"y2":{"field":"max"}}},
{"data":{"name":"bbox"},"transform":[{"filter":"datum.tissue==='PN'"}],"mark":{"type":"bar","orient":"vertical","size":11.6,"stroke":"#555","strokeWidth":0.8},"encoding":{"x":{"field":"cell","type":"nominal"},"xOffset":{"field":"lib"},"y":{"field":"q1","type":"quantitative"},"y2":{"field":"q3"},"fill":{"field":"lib","type":"nominal","scale":{"domain":["Biopsy only up","Both up","Taped only up"],"range":["#F0706A","#1FB14C","#6A93D1"]},"legend":null}}},
{"data":{"name":"bbox"},"transform":[{"filter":"datum.tissue==='PN'"}],"mark":{"type":"bar","orient":"vertical","size":11.6,"stroke":"#222","strokeWidth":1.3},"encoding":{"x":{"field":"cell","type":"nominal"},"xOffset":{"field":"lib"},"y":{"field":"med","type":"quantitative"},"y2":{"field":"med"}}},
{"data":{"values":[{"tissue":"PN","a":1.573,"b":1.703}]},"mark":{"type":"rect","fill":"#d9d9d9","stroke":"#aaaaaa"},"encoding":{"y":{"field":"a","type":"quantitative"},"y2":{"field":"b"}}},
{"data":{"values":[{"tissue":"PN","a":1.638}]},"mark":{"type":"text","fontSize":6.8,"color":"#333"},"encoding":{"y":{"field":"a","type":"quantitative"},"text":{"field":"tissue"}}}
]},
{"width":158.7,"height":186.3,"view":{"stroke":"#b5b5b5"},"layer":[
{"data":{"values":[{"v":0.25},{"v":0.75},{"v":1.25}]},"mark":{"type":"rule","color":"#f4f4f4","strokeWidth":0.6},"encoding":{"y":{"field":"v","type":"quantitative","title":null,"scale":{"domain":[-0.07,1.703],"nice":false,"zero":false},"axis":{"values":[0,0.5,1,1.5],"grid":true,"gridColor":"#eeeeee","domain":false,"ticks":false,"labels":false}}}},
{"data":{"name":"bbox"},"transform":[{"filter":"datum.tissue==='PP'"}],"mark":{"type":"rule","color":"#666","strokeWidth":1},"encoding":{"x":{"field":"cell","type":"nominal","title":null,"scale":{"paddingInner":0,"paddingOuter":0.1},"axis":{"labelAngle":0,"grid":true,"gridColor":"#eeeeee","domain":false,"tickColor":"#999","tickSize":2,"labelFontSize":6.8,"labelColor":"#6e6e6e","labelPadding":1}},"xOffset":{"field":"lib","scale":{"paddingInner":0,"paddingOuter":0.5}},"y":{"field":"min","type":"quantitative"},"y2":{"field":"max"}}},
{"data":{"name":"bbox"},"transform":[{"filter":"datum.tissue==='PP'"}],"mark":{"type":"bar","orient":"vertical","size":11.6,"stroke":"#555","strokeWidth":0.8},"encoding":{"x":{"field":"cell","type":"nominal"},"xOffset":{"field":"lib"},"y":{"field":"q1","type":"quantitative"},"y2":{"field":"q3"},"fill":{"field":"lib","type":"nominal","scale":{"domain":["Biopsy only up","Both up","Taped only up"],"range":["#F0706A","#1FB14C","#6A93D1"]},"legend":{"orient":"none","legendX":171,"legendY":75.5,"title":"Library","titleFontSize":8.4,"titleFontWeight":"normal","titleColor":"#222","titlePadding":4,"symbolType":"square","symbolSize":90,"symbolStrokeColor":"#555","symbolStrokeWidth":0.8,"labelFontSize":6.8,"labelColor":"#333","labelOffset":5,"rowPadding":0.5}}}},
{"data":{"name":"bbox"},"transform":[{"filter":"datum.tissue==='PP'"}],"mark":{"type":"bar","orient":"vertical","size":11.6,"stroke":"#222","strokeWidth":1.3},"encoding":{"x":{"field":"cell","type":"nominal"},"xOffset":{"field":"lib"},"y":{"field":"med","type":"quantitative"},"y2":{"field":"med"}}},
{"data":{"values":[{"tissue":"PP","a":1.573,"b":1.703}]},"mark":{"type":"rect","fill":"#d9d9d9","stroke":"#aaaaaa"},"encoding":{"y":{"field":"a","type":"quantitative"},"y2":{"field":"b"}}},
{"data":{"values":[{"tissue":"PP","a":1.638}]},"mark":{"type":"text","fontSize":6.8,"color":"#333"},"encoding":{"y":{"field":"a","type":"quantitative"},"text":{"field":"tissue"}}}
]}
],"spacing":4.6,"bounds":"flush","resolve":{"scale":{"fill":"independent","xOffset":"independent"},"legend":{"fill":"independent"}}},
{"resolve":{"scale":{"fill":"independent","xOffset":"independent"},"legend":{"fill":"independent"}},"vconcat":[
{"width":331.7,"height":133.4,"view":{"stroke":"#8c8c8c"},"layer":[
{"data":{"values":[{"v":0.5},{"v":1.5},{"v":2.5},{"v":3.5}]},"mark":{"type":"rule","color":"#f4f4f4","strokeWidth":0.6},"encoding":{"y":{"field":"v","type":"quantitative","title":"IL36G","scale":{"domain":[-0.21,4.2],"nice":false,"zero":false},"axis":{"values":[0,1,2,3,4],"grid":true,"gridColor":"#eeeeee","domain":false,"tickColor":"#999","tickSize":2,"labelFontSize":6.8,"labelColor":"#6e6e6e","labelPadding":2,"titleFontSize":8,"titleFontWeight":"normal","titleColor":"#222","titlePadding":2}}}},
{"data":{"name":"cbox"},"transform":[{"filter":"datum.gene==='IL36G'"}],"mark":{"type":"rule","color":"#666","strokeWidth":1},"encoding":{"x":{"field":"tissue","type":"nominal","title":null,"scale":{"paddingInner":0,"paddingOuter":0.1},"axis":{"labelAngle":0,"grid":true,"gridColor":"#eeeeee","domain":false,"tickColor":"#999","tickSize":2,"labelFontSize":6.8,"labelColor":"#6e6e6e","labelPadding":1}},"xOffset":{"field":"cell","scale":{"paddingInner":0,"paddingOuter":0.5}},"y":{"field":"min","type":"quantitative"},"y2":{"field":"max"}}},
{"data":{"name":"cbox"},"transform":[{"filter":"datum.gene==='IL36G'"}],"mark":{"type":"bar","orient":"vertical","size":34,"stroke":"#555","strokeWidth":0.9},"encoding":{"x":{"field":"tissue","type":"nominal"},"xOffset":{"field":"cell"},"y":{"field":"q1","type":"quantitative"},"y2":{"field":"q3"},"fill":{"field":"cell","type":"nominal","scale":{"domain":["Basal","Differentiated","Keratinized"],"range":["#969696","#E3A024","#59ADDE"]},"legend":{"orient":"none","legendX":344,"legendY":43.7,"title":"Cell","titleFontSize":8.4,"titleFontWeight":"normal","titleColor":"#222","titlePadding":4,"symbolType":"square","symbolSize":90,"symbolStrokeColor":"#555","symbolStrokeWidth":0.8,"labelFontSize":6.8,"labelColor":"#333","labelOffset":5,"rowPadding":0.5}}}},
{"data":{"name":"cbox"},"transform":[{"filter":"datum.gene==='IL36G'"}],"mark":{"type":"bar","orient":"vertical","size":34,"stroke":"#222","strokeWidth":1.3},"encoding":{"x":{"field":"tissue","type":"nominal"},"xOffset":{"field":"cell"},"y":{"field":"med","type":"quantitative"},"y2":{"field":"med"}}},
{"data":{"values":[{"t":"c","a":4.85}]},"mark":{"type":"text","fontSize":22,"font":"Open Sans","color":"#000","dx":-181.85},"encoding":{"y":{"field":"a","type":"quantitative"},"text":{"field":"t"}}}
]},
{"width":333.7,"height":133.3,"view":{"stroke":"#b8b8b8","strokeWidth":1.2},"layer":[
{"data":{"values":[{"v":0.5},{"v":1.5},{"v":2.5},{"v":3.5},{"v":4.5}]},"mark":{"type":"rule","color":"#f4f4f4","strokeWidth":0.6},"encoding":{"y":{"field":"v","type":"quantitative","title":"SPRR2A","scale":{"domain":[-0.235,5.24],"nice":false,"zero":false},"axis":{"values":[0,1,2,3,4,5],"grid":true,"gridColor":"#eeeeee","domain":false,"tickColor":"#999","tickSize":2,"labelFontSize":6.8,"labelColor":"#6e6e6e","labelPadding":2,"titleFontSize":8,"titleFontWeight":"normal","titleColor":"#222","titlePadding":2}}}},
{"data":{"name":"cbox"},"transform":[{"filter":"datum.gene==='SPRR2A'"}],"mark":{"type":"rule","color":"#666","strokeWidth":1},"encoding":{"x":{"field":"tissue","type":"nominal","title":null,"scale":{"paddingInner":0,"paddingOuter":0.1},"axis":{"labelAngle":0,"grid":true,"gridColor":"#eeeeee","domain":false,"tickColor":"#999","tickSize":2,"labelFontSize":6.8,"labelColor":"#6e6e6e","labelPadding":1}},"xOffset":{"field":"cell","scale":{"paddingInner":0,"paddingOuter":0.5}},"y":{"field":"min","type":"quantitative"},"y2":{"field":"max"}}},
{"data":{"name":"cbox"},"transform":[{"filter":"datum.gene==='SPRR2A'"}],"mark":{"type":"bar","orient":"vertical","size":34,"stroke":"#555","strokeWidth":0.9},"encoding":{"x":{"field":"tissue","type":"nominal"},"xOffset":{"field":"cell"},"y":{"field":"q1","type":"quantitative"},"y2":{"field":"q3"},"fill":{"field":"cell","type":"nominal","scale":{"domain":["Basal","Differentiated","Keratinized"],"range":["#969696","#E3A024","#59ADDE"]},"legend":{"orient":"none","legendX":346,"legendY":43.7,"title":"Cell","titleFontSize":8.4,"titleFontWeight":"normal","titleColor":"#222","titlePadding":4,"symbolType":"square","symbolSize":90,"symbolStrokeColor":"#555","symbolStrokeWidth":0.8,"labelFontSize":6.8,"labelColor":"#333","labelOffset":5,"rowPadding":0.5}}}},
{"data":{"name":"cbox"},"transform":[{"filter":"datum.gene==='SPRR2A'"}],"mark":{"type":"bar","orient":"vertical","size":34,"stroke":"#222","strokeWidth":1.3},"encoding":{"x":{"field":"tissue","type":"nominal"},"xOffset":{"field":"cell"},"y":{"field":"med","type":"quantitative"},"y2":{"field":"med"}}}
]}
],"spacing":13,"bounds":"flush"}
],"spacing":-14.7}
],"spacing":0}
],"spacing":-8.3}
